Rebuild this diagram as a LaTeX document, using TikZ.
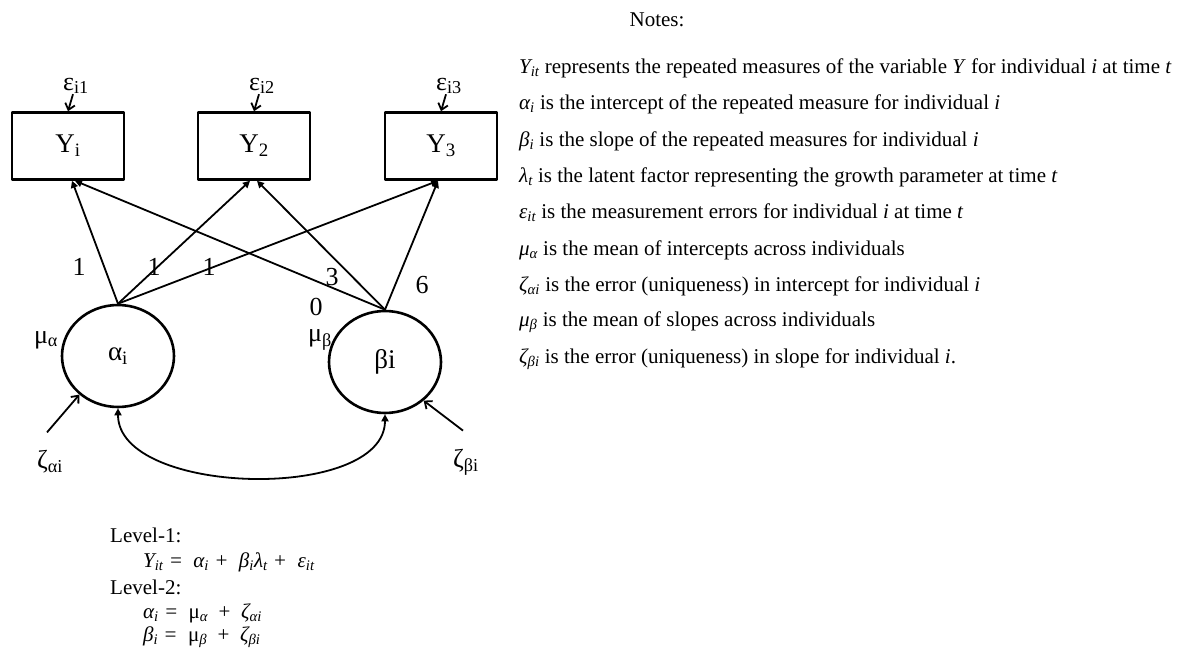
\documentclass[tikz,border=0pt]{standalone}
\usepackage{fontspec}
\setmainfont{Liberation Serif}
\usetikzlibrary{arrows.meta,shapes.geometric}
\newcommand\lo[1]{\textsubscript{#1}}
\tikzset{
  obs/.style={draw, line width=2.6pt, minimum width=112pt, minimum height=67pt, font=\fontsize{27}{30}\selectfont},
  lat/.style={draw, ellipse, line width=2.6pt, minimum width=112pt, minimum height=102pt, inner sep=0pt, font=\fontsize{27}{30}\selectfont},
  load/.style={line width=1.8pt, -{Triangle[length=7pt,width=7pt]}},
  err/.style={line width=1.8pt, -{Straight Barb[length=6pt,width=10pt]}},
  lbl/.style={font=\fontsize{26}{30}\selectfont, inner sep=0pt},
  note/.style={anchor=west, font=\fontsize{21}{24}\selectfont, inner sep=0pt}
}
\begin{document}
\begin{tikzpicture}[x=1pt,y=-1pt, line join=round]
	\useasboundingbox (0,0) rectangle (1186,652);
	% measured variables
	\node[obs] (y1) at (68,146) {Y\lo{i}};
	\node[obs] (y2) at (254,146) {Y\lo{2}};
	\node[obs] (y3) at (441,146) {Y\lo{3}};
	\node[lbl] (e1) at (76,86) {ε\lo{i1}};
	\node[lbl] (e2) at (262,86) {ε\lo{i2}};
	\node[lbl] (e3) at (449,86) {ε\lo{i3}};
	\draw[err] ([xshift=-3pt]e1.south) -- (y1.north);
	\draw[err] ([xshift=-3pt]e2.south) -- (y2.north);
	\draw[err] ([xshift=-3pt]e3.south) -- (y3.north);
	% growth factors
	\node[lat] (a) at (118,356) {α\lo{i}};
	\node[lat] (b) at (385,362) {βi};
	\draw[load] (a.north) -- ([xshift=4pt]y1.south);
	\draw[load] (a.north) -- ([xshift=-4pt]y2.south);
	\draw[load] (a.north) -- ([xshift=-3pt]y3.south);
	\draw[load] (b.north) -- ([xshift=7pt]y1.south);
	\draw[load] (b.north) -- ([xshift=3pt]y2.south);
	\draw[load] (b.north) -- ([xshift=-3pt]y3.south);
	\node[lbl] (l1) at (79,267) {1};
	\node[lbl] (l2) at (154,267) {1};
	\node[lbl] (l3) at (209,267) {1};
	\node[lbl] (l4) at (316,307) {0};
	\node[lbl] (l5) at (332,277) {3};
	\node[lbl] (l6) at (422,285) {6};
	\node[lbl] (ma) at (46,340) {μ\lo{α}};
	\node[lbl] (mb) at (320,340) {μ\lo{β}};
	% disturbances
	\node[lbl] (za) at (50,462) {ζ\lo{αi}};
	\node[lbl] (zb) at (466,462) {ζ\lo{βi}};
	\draw[err] ([yshift=18pt,xshift=-3pt]za.north) -- (a.225);
	\draw[err] ([yshift=18pt,xshift=-3pt]zb.north) -- (b.-45);
	\draw[line width=1.8pt, {Triangle[length=7pt,width=7pt]}-{Triangle[length=7pt,width=7pt]}]
		(a.south) .. controls +(0,88) and +(0,88) .. (b.south);
	% equations
	\node[note] (lv1) at (110,535) {Level-1:};
	\node[note] (eq1) at (143,562) {\itshape Y\lo{it} =\ \ α\lo{i} +\ \ β\lo{i}λ\lo{t} +\ \ ε\lo{it}};
	\node[note] (lv2) at (110,587) {Level-2:};
	\node[note] (eq2) at (143,613) {\itshape α\lo{i} =\ \ \upshape μ\lo{\itshape α}\ \ +\ \ \itshape ζ\lo{αi}};
	\node[note] (eq3) at (143,637) {\itshape β\lo{i} =\ \ \upshape μ\lo{\itshape β}\ \ +\ \ \itshape ζ\lo{βi}};
	% notes
	\node[note, anchor=center] (nt) at (657,20) {Notes:};
	\node[note] (n1) at (519,68) {\textit{Y\lo{it}} represents the repeated measures of the variable \textit{Y} for individual \textit{i} at time \textit{t}};
	\node[note] (n2) at (519,104) {\textit{α\lo{i}} is the intercept of the repeated measure for individual \textit{i}};
	\node[note] (n3) at (519,141) {\textit{β\lo{i}} is the slope of the repeated measures for individual \textit{i}};
	\node[note] (n4) at (519,177) {\textit{λ\lo{t}} is the latent factor representing the growth parameter at time \textit{t}};
	\node[note] (n5) at (519,213) {\textit{ε\lo{it}} is the measurement errors for individual \textit{i} at time \textit{t}};
	\node[note] (n6) at (519,250) {\textit{μ\lo{α}} is the mean of intercepts across individuals};
	\node[note] (n7) at (519,286) {\textit{ζ\lo{αi}} is the error (uniqueness) in intercept for individual \textit{i}};
	\node[note] (n8) at (519,322) {\textit{μ\lo{β}} is the mean of slopes across individuals};
	\node[note] (n9) at (519,359) {\textit{ζ\lo{βi}} is the error (uniqueness) in slope for individual \textit{i}.};
\end{tikzpicture}
\end{document}
